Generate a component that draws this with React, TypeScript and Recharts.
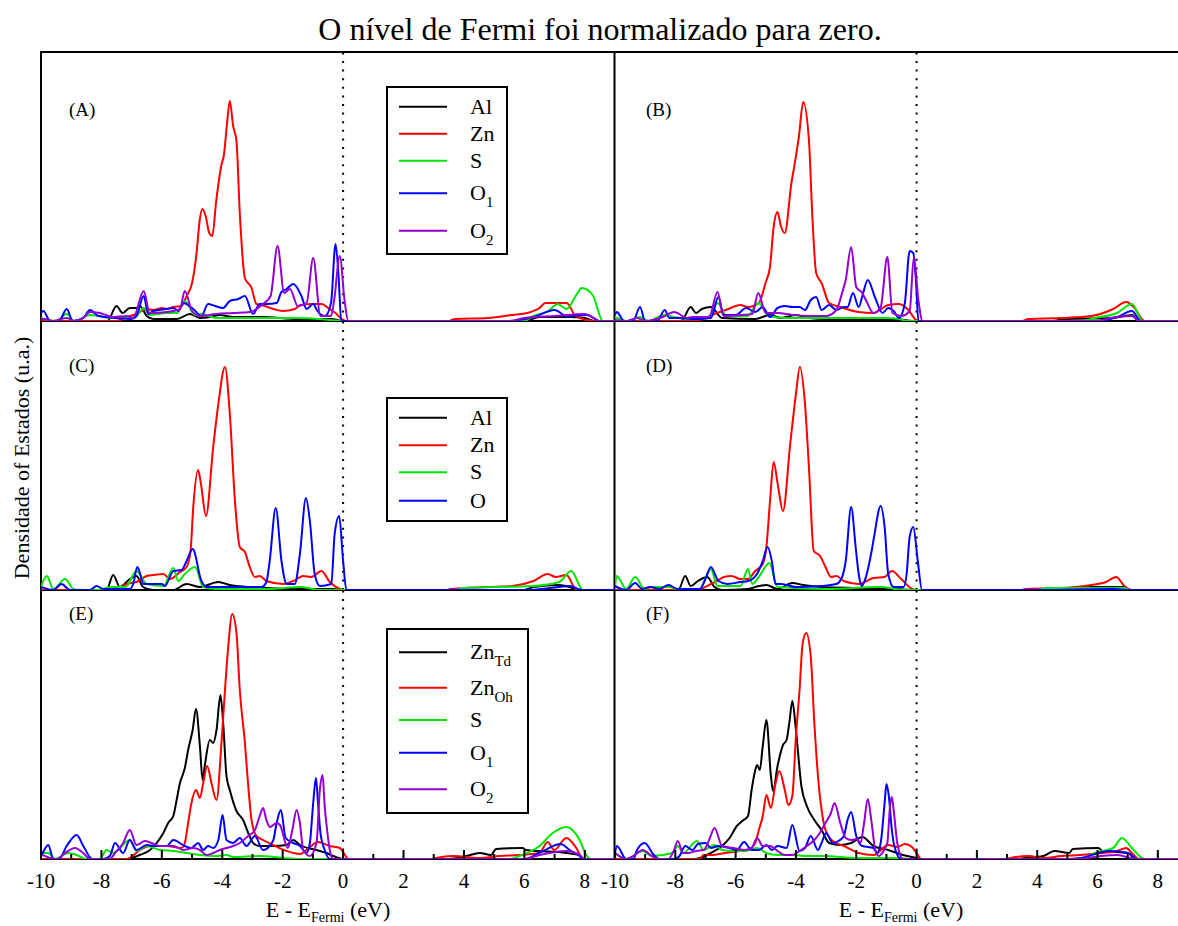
import { LineChart, Line, XAxis, YAxis, ReferenceLine } from "recharts";

type Pt = [number, number];

const SERIF = "'Liberation Serif', 'Times New Roman', serif";

const energyTicks = [-10, -9, -8, -7, -6, -5, -4, -3, -2, -1, 0, 1, 2, 3, 4, 5, 6, 7, 8, 9];

// (A)
const aAl: Pt[] = [[-10,0],[-7.8,0],[-7.5,1.5],[-7.3,0.8],[-7.06,1.3],[-6.84,1.3],[-6.73,1.5],[-6.5,0.5],[-6.28,0.2],[-5.5,0.2],[-5.07,0.7],[-4.74,0.3],[-4.4,0.4],[-4.08,0.6],[-3.64,0.4],[-2.7,0.4],[-1.5,0.2],[-0.4,0.2],[0,0],[6.0,0],[6.5,0.4],[7.5,0.4],[8.0,0.3],[8.3,0],[9,0]];
const aZn: Pt[] = [[-10,0],[-7.5,0],[-7.17,0.4],[-6.84,0.7],[-6.5,1.2],[-6.28,1.1],[-6.0,1.3],[-5.84,1.2],[-5.62,1.4],[-5.35,1.5],[-5.18,2.5],[-5.0,3.8],[-4.85,6.8],[-4.75,10.0],[-4.66,11.2],[-4.55,10.5],[-4.43,8.8],[-4.33,8.5],[-4.2,12.0],[-4.02,15.7],[-3.95,16.5],[-3.85,19.5],[-3.75,22.0],[-3.64,19.5],[-3.53,18.0],[-3.42,10.8],[-3.25,4.3],[-3.03,3.3],[-2.87,1.7],[-2.6,1.5],[-2.3,1.2],[-2.0,1.0],[-1.6,1.2],[-1.4,1.6],[-1.0,1.7],[-0.7,1.7],[-0.5,1.3],[-0.25,0.8],[0,0.1],[0.1,0],[3.5,0],[3.7,0.2],[4.8,0.3],[5.6,0.6],[6.1,0.8],[6.5,1.3],[6.7,1.8],[7.4,1.8],[7.7,0.5],[8.3,0],[9,0]];
const aS: Pt[] = [[-10,0.3],[-9.5,0],[-9.15,0.7],[-8.9,0],[-8.38,0.6],[-8.05,0.5],[-7.7,0.3],[-7.2,0.3],[-6.84,0.5],[-6.6,1.3],[-6.4,0.6],[-5.84,0.8],[-5.5,0.8],[-5.24,2.0],[-4.9,0.6],[-4.69,0.7],[-4.2,0.3],[-3,0.3],[-1.5,0.3],[-0.8,0.2],[-0.4,0.1],[0,0],[6,0],[6.3,0.5],[6.8,1.0],[7.1,1.7],[7.4,1.2],[7.7,2.5],[7.9,3.3],[8.26,2.6],[8.6,0],[9,0]];
const aO1: Pt[] = [[-10,0.8],[-9.92,1.0],[-9.7,0],[-9.4,0],[-9.15,1.2],[-8.95,0],[-8.6,0.3],[-8.38,1.1],[-8.1,0.5],[-7.5,0.3],[-7.0,0.2],[-6.84,0.5],[-6.6,2.5],[-6.45,0.7],[-6.28,1.0],[-5.84,1.2],[-5.62,1.3],[-5.45,1.0],[-5.29,1.8],[-4.96,1.2],[-4.69,0.5],[-4.47,1.7],[-4.24,1.5],[-3.97,1.3],[-3.75,2.0],[-3.47,2.2],[-3.25,2.5],[-2.98,0.7],[-2.76,1.7],[-2.53,1.7],[-2.2,1.8],[-2.04,2.9],[-1.87,3.2],[-1.65,3.7],[-1.38,2.5],[-1.21,1.2],[-0.99,1.7],[-0.85,1.0],[-0.6,0.5],[-0.4,1.8],[-0.25,7.7],[-0.15,4.5],[-0.06,0],[5.5,0],[6.3,0.4],[7.0,1.1],[7.4,0.5],[8.07,0.6],[8.5,0],[9,0]];
const aO2: Pt[] = [[-10,0.2],[-9.92,0.2],[-9.6,0],[-9.15,0.3],[-8.9,0],[-8.6,0.3],[-8.38,0.9],[-8.05,0.8],[-7.6,0.4],[-7.17,0.5],[-6.95,0.3],[-6.6,3.0],[-6.4,0.8],[-5.84,0.9],[-5.4,1.2],[-5.24,3.0],[-5.0,1.0],[-4.74,0.5],[-4.2,0.7],[-3.64,0.8],[-3.09,0.9],[-2.65,1.7],[-2.4,2.5],[-2.17,7.5],[-1.95,2.8],[-1.76,3.2],[-1.5,1.5],[-1.21,1.8],[-0.99,6.3],[-0.75,0.5],[-0.4,0.5],[-0.3,2.0],[-0.11,6.5],[0.05,2.0],[0.17,0],[5.5,0],[6.0,0.3],[7.0,0.5],[8.0,0.7],[8.3,0.3],[8.5,0],[9,0]];

// (B)
const bAl: Pt[] = [[-10,0],[-7.8,0],[-7.49,1.4],[-7.31,0.8],[-7.12,1.2],[-6.82,1.4],[-6.45,0.3],[-5.35,0.2],[-4.86,0.6],[-4.5,0.3],[-4.0,0.6],[-3.6,0.3],[-3.0,0.2],[-0.7,0.2],[-0.1,0],[4.5,0],[4.93,0.2],[6.5,0.3],[7.14,0.6],[7.38,0],[9,0]];
const bZn: Pt[] = [[-10,0],[-7.5,0],[-7.0,0.3],[-6.8,0.6],[-6.33,1.1],[-5.84,1.6],[-5.6,1.4],[-5.23,1.8],[-5.01,3.8],[-4.86,5.4],[-4.74,9.4],[-4.61,10.9],[-4.5,9.5],[-4.37,8.8],[-4.15,13.8],[-4.06,15.4],[-3.9,18.5],[-3.76,21.9],[-3.57,18.1],[-3.45,10.1],[-3.33,4.8],[-3.15,3.8],[-2.9,1.8],[-2.53,1.4],[-1.92,0.9],[-1.43,0.8],[-0.94,1.6],[-0.58,1.7],[-0.27,1.1],[-0.02,0.1],[0.1,0],[3.5,0],[3.71,0.2],[4.81,0.3],[5.79,0.5],[6.52,1.2],[6.95,1.9],[7.2,1.4],[7.56,0],[9,0]];
const bS: Pt[] = [[-10,0.4],[-9.6,0],[-9.17,0.4],[-8.9,0],[-8.35,0.6],[-8.04,0.4],[-7.6,0.2],[-6.9,0.3],[-6.6,1.8],[-6.3,0.5],[-5.6,0.5],[-5.25,1.8],[-4.9,0.5],[-4.37,0.3],[-3,0.3],[-1,0.3],[-0.58,0.2],[-0.3,0],[5.5,0],[5.91,0.3],[6.65,0.8],[7.14,1.7],[7.5,0],[9,0]];
const bO1: Pt[] = [[-10,0.6],[-9.94,0.9],[-9.7,0],[-9.4,0],[-9.17,1.4],[-9.0,0],[-8.6,0],[-8.35,1.1],[-8.2,0.3],[-7.9,0.3],[-7.3,0.2],[-6.82,0.3],[-6.57,2.4],[-6.4,0.6],[-6.0,0.6],[-5.65,1.3],[-5.35,0.9],[-5.1,1.4],[-4.86,0.4],[-4.61,1.3],[-4.37,1.5],[-4.12,1.4],[-3.88,1.4],[-3.7,1.1],[-3.51,2.1],[-3.33,2.4],[-3.15,1.1],[-2.9,1.6],[-2.66,1.1],[-2.41,1.4],[-2.29,1.4],[-2.11,2.8],[-1.92,1.4],[-1.77,2.8],[-1.62,4.1],[-1.37,2.3],[-1.13,0.8],[-0.94,1.3],[-0.76,1.0],[-0.58,0.3],[-0.39,1.8],[-0.23,7.0],[-0.11,6.8],[-0.02,4.0],[0.06,0],[6.0,0],[6.65,0.4],[7.14,1.0],[7.44,0],[9,0]];
const bO2: Pt[] = [[-10,0.1],[-9.6,0],[-9.27,0.3],[-9.0,0],[-8.41,0.4],[-8.04,0.9],[-7.6,0.3],[-7.43,0.4],[-6.88,0.4],[-6.6,2.9],[-6.4,0.5],[-5.8,0.6],[-5.45,0.7],[-5.25,2.8],[-5.0,0.8],[-4.61,0.8],[-4.12,0.6],[-3.5,0.5],[-3.0,0.5],[-2.66,1.1],[-2.47,2.8],[-2.35,4.1],[-2.17,7.4],[-2.0,3.4],[-1.8,2.8],[-1.68,2.1],[-1.43,0.8],[-1.19,1.4],[-0.97,6.4],[-0.8,0.8],[-0.5,0.5],[-0.23,1.0],[-0.09,6.4],[0.06,2.1],[0.2,0],[6.0,0],[6.4,0.3],[7.14,0.5],[7.38,0],[9,0]];

// (C)
const cAl: Pt[] = [[-10,0],[-7.83,0],[-7.61,1.5],[-7.39,0.3],[-7.06,1.1],[-6.84,1.4],[-6.62,0.3],[-6.28,0],[-5.62,0],[-5.18,0.6],[-4.74,0.3],[-4.13,0.8],[-3.75,0.5],[-3.09,0.3],[-2.54,0.2],[-1.43,0.1],[-0.33,0.1],[0,0],[6.0,0],[6.3,0.3],[7.15,0.5],[7.5,0.3],[7.8,0],[9,0]];
const cZn: Pt[] = [[-10,0],[-7.5,0],[-7.17,0.6],[-6.84,0.8],[-6.5,1.4],[-6.28,1.5],[-5.95,1.6],[-5.73,1.1],[-5.4,1.8],[-5.18,2.3],[-5.05,3.9],[-4.96,8.3],[-4.8,12.0],[-4.7,10.5],[-4.54,7.4],[-4.3,14.3],[-4.13,18.6],[-3.91,22.3],[-3.75,17.6],[-3.58,8.9],[-3.42,4.3],[-3.25,3.8],[-3.09,2.3],[-2.92,1.3],[-2.76,1.4],[-2.54,0.9],[-1.98,0.6],[-1.65,0.9],[-1.32,1.4],[-1.05,1.3],[-0.72,1.9],[-0.44,0.8],[-0.11,0.1],[0,0],[3.5,0],[3.53,0.1],[4.75,0.3],[5.6,0.4],[6.3,0.9],[6.77,1.6],[7.04,1.3],[7.39,1.5],[7.73,0],[9,0]];
const cS: Pt[] = [[-10,0.3],[-9.81,1.4],[-9.59,0.1],[-9.2,1.1],[-8.93,0.1],[-8.7,0],[-8.05,0],[-7.72,0.3],[-7.2,0.3],[-6.84,1.9],[-6.5,0.6],[-5.95,0.4],[-5.62,2.2],[-5.46,0.9],[-5.24,1.6],[-4.9,2.3],[-4.63,0.3],[-4.19,0.1],[-2.5,0.1],[-1.43,0.3],[-0.99,0.1],[-0.8,0],[3.7,0],[4.0,0.2],[6.3,0.4],[7.15,0.8],[7.55,1.9],[7.94,0],[9,0]];
const cO: Pt[] = [[-10,0.3],[-9.59,0],[-9.32,0.6],[-9.04,0],[-8.38,0],[-8.16,0.4],[-7.94,0.1],[-7.06,0.1],[-6.95,0.6],[-6.81,2.3],[-6.6,0.6],[-6.0,0.6],[-5.9,0.4],[-5.62,1.9],[-5.35,2.0],[-5.18,2.9],[-4.98,4.1],[-4.69,0.9],[-4.52,0.3],[-2.7,0.3],[-2.54,0.8],[-2.43,2.9],[-2.23,8.2],[-2.04,2.9],[-1.87,0.6],[-1.6,0.6],[-1.43,3.6],[-1.23,9.2],[-1.1,6.9],[-0.94,1.6],[-0.77,0.4],[-0.39,0.6],[-0.28,5.6],[-0.13,7.4],[0.0,2.9],[0.11,0],[6.0,0],[7.15,0.3],[7.5,0.4],[7.9,0],[9,0]];

// (D)
const dAl: Pt[] = [[-10,0],[-7.9,0],[-7.67,1.4],[-7.49,0.4],[-7.25,0.9],[-6.94,1.3],[-6.7,0.3],[-6.45,0],[-5.59,0.1],[-5.23,0.4],[-4.98,0.5],[-4.61,0.1],[-4.12,0.7],[-3.76,0.5],[-3.15,0.3],[-1.92,0.2],[-0.7,0.1],[0,0],[4.5,0],[4.81,0.1],[5.79,0.3],[6.89,0.3],[7.01,0],[9,0]];
const dZn: Pt[] = [[-10,0],[-7.5,0],[-7.18,0.1],[-6.82,0.6],[-6.57,1.0],[-6.39,1.3],[-6.14,1.4],[-5.84,1.1],[-5.59,1.1],[-5.35,1.9],[-5.1,2.6],[-4.98,4.3],[-4.86,8.9],[-4.74,12.8],[-4.6,10.5],[-4.43,7.9],[-4.19,14.6],[-4.0,19.6],[-3.87,22.3],[-3.7,18.6],[-3.57,12.3],[-3.41,3.9],[-3.2,3.4],[-3.02,2.3],[-2.84,1.3],[-2.66,1.4],[-2.41,0.9],[-1.92,0.6],[-1.43,1.2],[-1.06,1.3],[-0.82,1.9],[-0.51,1.1],[-0.15,0.1],[0,0],[3.5,0],[3.59,0.1],[4.81,0.2],[5.79,0.5],[6.28,0.8],[6.62,1.3],[6.89,0.4],[7.14,0],[9,0]];
const dS: Pt[] = [[-10,0.4],[-9.94,1.4],[-9.63,0.1],[-9.33,1.3],[-9.02,0.1],[-8.78,0.3],[-8.23,0.3],[-7.92,0.1],[-7.2,0.1],[-6.82,2.1],[-6.6,0.4],[-5.84,0.4],[-5.59,2.1],[-5.45,0.6],[-5.23,1.3],[-4.88,2.7],[-4.61,0.3],[-3.0,0.1],[-1.19,0.3],[-0.7,0.1],[-0.5,0],[4.0,0],[4.32,0.2],[6.89,0.2],[7.07,0],[9,0]];
const dO: Pt[] = [[-10,0.4],[-9.63,0],[-9.33,0.7],[-9.1,0.1],[-8.84,0.3],[-8.53,0.1],[-8.23,0.5],[-7.92,0.1],[-7.18,0.1],[-7.0,1.1],[-6.82,2.3],[-6.57,0.9],[-6.27,0.6],[-5.84,0.8],[-5.59,0.9],[-5.29,1.6],[-5.1,2.9],[-4.94,4.3],[-4.8,2.9],[-4.68,0.6],[-4.49,0.6],[-4.0,0.3],[-3.15,0.4],[-2.66,0.6],[-2.47,1.3],[-2.35,2.9],[-2.17,8.3],[-2.02,4.3],[-1.92,1.6],[-1.82,0.4],[-1.68,1.3],[-1.49,3.9],[-1.41,5.3],[-1.19,8.4],[-1.06,6.3],[-0.94,1.6],[-0.76,0.3],[-0.43,0.3],[-0.33,1.6],[-0.23,5.3],[-0.11,6.3],[0.04,2.9],[0.18,0],[4.0,0],[6.5,0.1],[7.0,0],[9,0]];

// (E)
const eZnTd: Pt[] = [[-10,0],[-7.3,0],[-7.17,0],[-6.73,0.4],[-6.39,0.9],[-6.17,1.6],[-5.95,2.6],[-5.79,3.6],[-5.62,4.3],[-5.51,5.9],[-5.4,7.6],[-5.31,8.4],[-5.24,9.1],[-5.13,10.9],[-4.98,12.9],[-4.87,15.0],[-4.74,11.3],[-4.65,7.9],[-4.58,9.3],[-4.41,11.9],[-4.3,11.6],[-4.19,12.9],[-4.06,16.4],[-3.97,13.6],[-3.86,8.3],[-3.75,6.9],[-3.53,4.8],[-3.31,3.9],[-3.14,2.6],[-2.98,1.6],[-2.76,1.3],[-2.32,1.3],[-1.87,1.4],[-1.65,1.9],[-1.43,1.4],[-0.88,0.9],[-0.55,0.6],[-0.33,0.3],[0,0],[3.5,0],[4.08,0.3],[4.52,0.6],[4.9,0.4],[5.06,1.0],[5.94,1.1],[6.05,0.9],[7.39,0.6],[7.83,0.4],[7.94,0],[9,0]];
const eZnOh: Pt[] = [[-10,0],[-7.2,0],[-7.06,0.1],[-6.73,0.9],[-6.39,1.3],[-5.84,1.3],[-5.35,1.1],[-5.24,1.6],[-5.13,3.6],[-5.02,5.6],[-4.87,6.9],[-4.74,6.1],[-4.63,7.6],[-4.5,9.3],[-4.35,7.5],[-4.19,5.9],[-4.02,11.9],[-3.91,16.9],[-3.8,21.3],[-3.67,24.5],[-3.53,22.6],[-3.42,16.9],[-3.25,11.6],[-3.14,7.3],[-3.03,3.9],[-2.87,2.3],[-2.65,1.9],[-2.32,1.4],[-1.87,0.8],[-1.43,0.5],[-1.1,1.2],[-0.83,1.7],[-0.44,1.3],[-0.11,1.1],[0.06,0.4],[0.17,0],[3.0,0],[3.09,0.1],[3.64,0.3],[4.5,0.1],[5.18,0.3],[5.84,0.4],[6.5,0.6],[6.77,1.7],[6.99,0.9],[7.39,2.1],[7.72,1.1],[7.94,0],[9,0]];
const eS: Pt[] = [[-10,0.6],[-9.76,0.6],[-9.54,0],[-9.1,0.6],[-8.82,0.4],[-8.49,0],[-8.05,0],[-7.83,0.9],[-7.61,0.6],[-7.06,1.9],[-6.84,0.8],[-6.5,1.3],[-6.06,0.9],[-5.62,0.8],[-5.18,0.6],[-4.74,0.4],[-4.19,0.3],[-3.86,0.4],[-3.64,0.2],[-2.76,0.3],[-1.98,0.1],[-1.43,0],[5.5,0],[5.84,0.3],[6.5,1.3],[6.94,2.6],[7.39,3.2],[7.83,1.9],[8.05,0.4],[8.2,0],[9,0]];
const eO1: Pt[] = [[-10,0.3],[-9.98,0.4],[-9.76,1.4],[-9.59,0],[-9.4,0],[-9.15,1.3],[-8.82,2.4],[-8.6,1.3],[-8.3,0],[-7.94,0],[-7.72,0.3],[-7.55,1.6],[-7.28,0.6],[-7.06,1.9],[-6.84,0.9],[-6.5,1.4],[-6.28,1.3],[-5.84,1.3],[-5.62,1.9],[-5.24,1.3],[-5.02,1.1],[-4.8,1.6],[-4.63,0.9],[-4.47,1.3],[-4.3,1.1],[-4.13,1.9],[-3.99,4.4],[-3.86,1.9],[-3.64,1.6],[-3.42,2.1],[-3.2,1.3],[-2.92,2.3],[-2.65,0.9],[-2.32,1.8],[-2.2,3.6],[-2.06,4.9],[-1.9,2.1],[-1.65,1.6],[-1.43,1.3],[-1.21,0.6],[-1.1,1.6],[-0.99,5.6],[-0.9,8.1],[-0.83,5.6],[-0.75,2.6],[-0.61,0.9],[-0.44,0],[6.0,0],[6.61,0.8],[7.2,1.5],[7.5,0.9],[7.83,0.3],[7.94,0],[9,0]];
const eO2: Pt[] = [[-10,0.3],[-9.98,0.4],[-9.7,0.1],[-9.48,0],[-9.2,0.6],[-8.88,1.1],[-8.6,0.6],[-8.38,0],[-7.72,0],[-7.55,0.6],[-7.28,1.6],[-7.06,2.9],[-6.84,1.4],[-6.56,1.8],[-6.34,1.6],[-6.06,1.3],[-5.62,1.3],[-5.29,0.9],[-4.96,1.1],[-4.74,0.9],[-4.52,0.4],[-4.3,0.6],[-4.08,0.9],[-3.64,1.3],[-3.42,1.6],[-3.14,2.3],[-2.92,2.9],[-2.76,4.3],[-2.65,5.1],[-2.54,3.9],[-2.42,3.2],[-2.2,3.6],[-2.09,3.4],[-1.83,1.1],[-1.68,2.9],[-1.54,4.9],[-1.43,3.6],[-1.32,0.9],[-1.1,0.3],[-0.88,1.6],[-0.77,6.9],[-0.68,8.4],[-0.61,5.3],[-0.53,2.9],[-0.44,0.9],[-0.33,0],[6.0,0],[6.5,0.4],[7.39,0.8],[7.83,0.4],[8.0,0],[9,0]];

// (F)
const fZnTd: Pt[] = [[-10,0],[-7.4,0],[-7.18,0.1],[-6.82,0.6],[-6.45,1.3],[-6.2,2.1],[-5.96,3.3],[-5.78,3.8],[-5.59,4.3],[-5.47,6.9],[-5.37,8.6],[-5.29,9.4],[-5.2,8.9],[-5.1,11.3],[-4.98,13.9],[-4.83,8.3],[-4.76,6.8],[-4.61,9.3],[-4.43,11.4],[-4.31,11.9],[-4.22,13.6],[-4.12,15.8],[-4.0,12.9],[-3.82,7.3],[-3.64,5.3],[-3.39,3.9],[-3.15,2.9],[-2.9,1.6],[-2.53,1.4],[-2.17,1.6],[-1.8,2.2],[-1.43,1.3],[-0.94,0.9],[-0.45,0.4],[0,0.1],[0.16,0],[3.3,0],[3.59,0.1],[4.2,0.3],[4.57,0.8],[5.06,0.6],[5.18,1.0],[6.03,1.1],[6.16,0.8],[7.01,0.6],[7.26,0],[9,0]];
const fZnOh: Pt[] = [[-10,0],[-7.2,0],[-7.06,0.4],[-6.82,0.4],[-6.33,0.6],[-5.84,0.8],[-5.59,0.9],[-5.35,1.6],[-5.23,2.9],[-5.1,4.3],[-4.98,6.4],[-4.83,5.1],[-4.68,7.5],[-4.55,8.8],[-4.37,6.9],[-4.25,5.4],[-4.12,6.3],[-4.0,12.3],[-3.88,16.9],[-3.78,21.5],[-3.66,22.6],[-3.51,20.3],[-3.39,13.6],[-3.27,8.3],[-3.15,4.9],[-3.02,2.9],[-2.78,1.8],[-2.41,1.3],[-1.92,0.6],[-1.43,0.4],[-0.94,1.4],[-0.64,1.2],[-0.39,1.5],[-0.15,1.2],[0.04,0.4],[0.16,0],[3.0,0],[3.1,0.1],[3.71,0.3],[4.2,0.1],[4.81,0.3],[5.42,0.4],[6.16,0.6],[6.65,0.8],[6.95,1.1],[7.14,0.6],[7.38,0],[9,0]];
const fS: Pt[] = [[-10,0.6],[-9.63,0],[-9.08,0.8],[-8.78,0.3],[-8.1,0.6],[-7.92,1.3],[-7.74,0.6],[-7.28,1.8],[-7.06,0.9],[-6.7,1.4],[-6.45,0.9],[-6.08,0.8],[-5.72,0.8],[-5.29,1.1],[-4.98,0.6],[-4.61,0.4],[-4.12,0.4],[-3.64,0.3],[-3.15,0.3],[-1.92,0.1],[-0.7,0.1],[-0.09,0],[5.5,0],[5.91,0.6],[6.52,1.1],[6.81,2.1],[7.14,1.1],[7.56,0],[9,0]];
const fO1: Pt[] = [[-10,0.6],[-9.94,1.3],[-9.63,0],[-9.39,0],[-9.27,0.9],[-9.02,1.6],[-8.71,0.4],[-8.53,0],[-8.04,0],[-7.86,0.3],[-7.67,1.3],[-7.43,0.9],[-7.25,1.5],[-7.0,1.6],[-6.82,1.1],[-6.57,1.3],[-6.21,1.1],[-5.96,0.9],[-5.72,1.7],[-5.47,0.9],[-5.23,0.9],[-4.98,1.4],[-4.8,0.9],[-4.61,1.3],[-4.31,1.1],[-4.12,3.4],[-3.88,0.8],[-3.7,1.1],[-3.51,2.3],[-3.27,0.9],[-3.15,1.6],[-3.0,2.6],[-2.78,1.6],[-2.59,1.8],[-2.41,2.3],[-2.29,3.9],[-2.17,4.7],[-2.0,2.3],[-1.8,1.3],[-1.43,1.1],[-1.31,0.6],[-1.19,1.6],[-1.06,5.6],[-1.0,7.5],[-0.92,6.3],[-0.82,2.9],[-0.7,0.9],[-0.51,0],[5.0,0],[5.42,0.1],[6.4,0.8],[7.01,0.6],[7.32,0],[9,0]];
const fO2: Pt[] = [[-10,0.6],[-9.63,0],[-9.39,0.3],[-9.08,0.9],[-8.78,0.3],[-8.53,0],[-8.23,0],[-8.04,0.9],[-7.92,1.8],[-7.74,0.6],[-7.55,0.6],[-7.31,0.8],[-7.06,0.9],[-6.88,1.9],[-6.7,3.1],[-6.45,1.3],[-6.08,1.1],[-5.72,0.9],[-5.47,1.1],[-5.29,2.1],[-5.1,1.3],[-4.86,1.3],[-4.61,0.8],[-4.37,0.4],[-4.12,0.4],[-3.88,0.8],[-3.64,1.3],[-3.39,1.9],[-3.21,2.6],[-3.02,3.6],[-2.84,4.6],[-2.72,5.6],[-2.53,3.6],[-2.35,2.1],[-2.17,1.9],[-1.98,2.0],[-1.86,1.6],[-1.74,3.6],[-1.62,6.0],[-1.49,3.6],[-1.37,0.9],[-1.25,0.3],[-1.06,1.0],[-0.97,1.6],[-0.88,5.3],[-0.82,6.2],[-0.76,4.9],[-0.64,1.6],[-0.45,0],[5.5,0],[5.67,0.1],[6.65,0.4],[7.26,0],[9,0]];

const COLORS = {
  black: "#000000",
  red: "#ff0000",
  green: "#00e600",
  blue: "#0000ff",
  violet: "#9400d3",
};

type Series = { key: string; color: string; points: Pt[] };

const panels: { id: string; left: number; top: number; width: number; axis: boolean; series: Series[] }[] = [
  { id: "A", left: 41, top: 52, width: 574, axis: false, series: [
    { key: "Al", color: COLORS.black, points: aAl },
    { key: "Zn", color: COLORS.red, points: aZn },
    { key: "S", color: COLORS.green, points: aS },
    { key: "O1", color: COLORS.blue, points: aO1 },
    { key: "O2", color: COLORS.violet, points: aO2 },
  ] },
  { id: "B", left: 615, top: 52, width: 573, axis: false, series: [
    { key: "Al", color: COLORS.black, points: bAl },
    { key: "Zn", color: COLORS.red, points: bZn },
    { key: "S", color: COLORS.green, points: bS },
    { key: "O1", color: COLORS.blue, points: bO1 },
    { key: "O2", color: COLORS.violet, points: bO2 },
  ] },
  { id: "C", left: 41, top: 321, width: 574, axis: false, series: [
    { key: "Al", color: COLORS.black, points: cAl },
    { key: "Zn", color: COLORS.red, points: cZn },
    { key: "S", color: COLORS.green, points: cS },
    { key: "O", color: COLORS.blue, points: cO },
  ] },
  { id: "D", left: 615, top: 321, width: 573, axis: false, series: [
    { key: "Al", color: COLORS.black, points: dAl },
    { key: "Zn", color: COLORS.red, points: dZn },
    { key: "S", color: COLORS.green, points: dS },
    { key: "O", color: COLORS.blue, points: dO },
  ] },
  { id: "E", left: 41, top: 590, width: 574, axis: true, series: [
    { key: "ZnTd", color: COLORS.black, points: eZnTd },
    { key: "ZnOh", color: COLORS.red, points: eZnOh },
    { key: "S", color: COLORS.green, points: eS },
    { key: "O1", color: COLORS.blue, points: eO1 },
    { key: "O2", color: COLORS.violet, points: eO2 },
  ] },
  { id: "F", left: 615, top: 590, width: 573, axis: true, series: [
    { key: "ZnTd", color: COLORS.black, points: fZnTd },
    { key: "ZnOh", color: COLORS.red, points: fZnOh },
    { key: "S", color: COLORS.green, points: fS },
    { key: "O1", color: COLORS.blue, points: fO1 },
    { key: "O2", color: COLORS.violet, points: fO2 },
  ] },
];

const PANEL_H = 269;
const AXIS_H = 40;
const SIDE = 30; // extra room so edge tick labels are not clipped

const EnergyTick = (props: any) => {
  const { x, y, payload } = props;
  const v = payload.value;
  const major = v % 2 === 0;
  return (
    <g>
      <line x1={x} x2={x} y1={y} y2={y - (major ? 9 : 5)} stroke="#000" strokeWidth={2} />
      {major && v < 9 && (
        <text x={x} y={y + 29} textAnchor="middle" fontSize={21} fontFamily={SERIF} fill="#000">
          {v}
        </text>
      )}
    </g>
  );
};

const DosPanel = ({ left, top, width, axis, series }: { left: number; top: number; width: number; axis: boolean; series: Series[] }) => (
  <div style={{ position: "absolute", left: left - SIDE, top }}>
    <LineChart
      width={width + 2 * SIDE}
      height={PANEL_H + (axis ? AXIS_H : 0)}
      margin={{ top: 0, right: SIDE, bottom: 0, left: SIDE }}
    >
      <XAxis
        type="number"
        dataKey="e"
        domain={[-10, 9]}
        ticks={energyTicks}
        interval={0}
        hide={!axis}
        height={AXIS_H}
        axisLine={false}
        tickLine={false}
        tickSize={0}
        tickMargin={0}
        tick={(p: any) => <EnergyTick {...p} />}
        allowDataOverflow
      />
      <YAxis type="number" domain={[0, 26.9]} hide allowDataOverflow />
      <ReferenceLine x={0} stroke="#000" strokeWidth={2} strokeDasharray="2 6.6" />
      {series.map((s) => (
        <Line
          key={s.key}
          data={s.points.map(([e, d]) => ({ e, d }))}
          dataKey="d"
          type="monotone"
          stroke={s.color}
          strokeWidth={2}
          dot={false}
          isAnimationActive={false}
        />
      ))}
    </LineChart>
  </div>
);

type LegendRow = { text: string; sub?: string; color: string; y: number };

const legendA: LegendRow[] = [
  { text: "Al", color: COLORS.black, y: 19.7 },
  { text: "Zn", color: COLORS.red, y: 46.7 },
  { text: "S", color: COLORS.green, y: 73.7 },
  { text: "O", sub: "1", color: COLORS.blue, y: 106.3 },
  { text: "O", sub: "2", color: COLORS.violet, y: 143.7 },
];
const legendC: LegendRow[] = [
  { text: "Al", color: COLORS.black, y: 19.7 },
  { text: "Zn", color: COLORS.red, y: 47.3 },
  { text: "S", color: COLORS.green, y: 74.3 },
  { text: "O", color: COLORS.blue, y: 102.7 },
];
const legendE: LegendRow[] = [
  { text: "Zn", sub: "Td", color: COLORS.black, y: 23.3 },
  { text: "Zn", sub: "Oh", color: COLORS.red, y: 58.7 },
  { text: "S", color: COLORS.green, y: 91 },
  { text: "O", sub: "1", color: COLORS.blue, y: 123.7 },
  { text: "O", sub: "2", color: COLORS.violet, y: 160.3 },
];

const LegendBox = ({ x, y, w, h, rows }: { x: number; y: number; w: number; h: number; rows: LegendRow[] }) => (
  <g transform={`translate(${x},${y})`}>
    <rect x={0} y={0} width={w} height={h} fill="#fff" stroke="#000" strokeWidth={2} />
    {rows.map((r) => (
      <g key={r.text + (r.sub || "")}>
        <line x1={12} x2={60} y1={r.y} y2={r.y} stroke={r.color} strokeWidth={2} />
        <text x={83} y={r.y + 7} fontSize={22} fontFamily={SERIF} fill="#000">
          {r.text}
          {r.sub && (
            <tspan dy={7} fontSize={15}>
              {r.sub}
            </tspan>
          )}
        </text>
      </g>
    ))}
  </g>
);

const hLines = [52, 321, 590, 859];
const vLines = [41, 614.5];

const panelLabels = [
  { t: "(A)", x: 69, y: 116 },
  { t: "(B)", x: 646, y: 116 },
  { t: "(C)", x: 69, y: 372 },
  { t: "(D)", x: 646, y: 372 },
  { t: "(E)", x: 69, y: 620 },
  { t: "(F)", x: 646, y: 620 },
];

export default function App() {
  return (
    <div style={{ position: "fixed", left: 0, top: 0, width: 1178, height: 926, overflow: "hidden", background: "#fff" }}>
      <svg width={1178} height={926} style={{ position: "absolute", left: 0, top: 0 }}>
        {hLines.map((y) => (
          <line key={"h" + y} x1={40} x2={1178} y1={y} y2={y} stroke="#000" strokeWidth={2} />
        ))}
        {vLines.map((x) => (
          <line key={"v" + x} x1={x} x2={x} y1={51} y2={860} stroke="#000" strokeWidth={2} />
        ))}
      </svg>
      {panels.map((p) => (
        <DosPanel key={p.id} left={p.left} top={p.top} width={p.width} axis={p.axis} series={p.series} />
      ))}
      <svg width={1178} height={926} style={{ position: "absolute", left: 0, top: 0, pointerEvents: "none" }}>
        <text x={600} y={40} textAnchor="middle" fontSize={32} fontFamily={SERIF} fill="#000">
          O nível de Fermi foi normalizado para zero.
        </text>
        {panelLabels.map((l) => (
          <text key={l.t} x={l.x} y={l.y} fontSize={19} fontFamily={SERIF} fill="#000">
            {l.t}
          </text>
        ))}
        <LegendBox x={387} y={87} w={120} h={167} rows={legendA} />
        <LegendBox x={387} y={398} w={120} h={123} rows={legendC} />
        <LegendBox x={387} y={629} w={141} h={184} rows={legendE} />
        <text transform="translate(29,458) rotate(-90)" textAnchor="middle" fontSize={22} fontFamily={SERIF} fill="#000">
          Densidade of Estados (u.a.)
        </text>
        {[328, 901].map((cx) => (
          <text key={cx} x={cx} y={917} textAnchor="middle" fontSize={22} fontFamily={SERIF} fill="#000">
            E - E
            <tspan dy={5} fontSize={14}>Fermi</tspan>
            <tspan dy={-5}> (eV)</tspan>
          </text>
        ))}
      </svg>
    </div>
  );
}
